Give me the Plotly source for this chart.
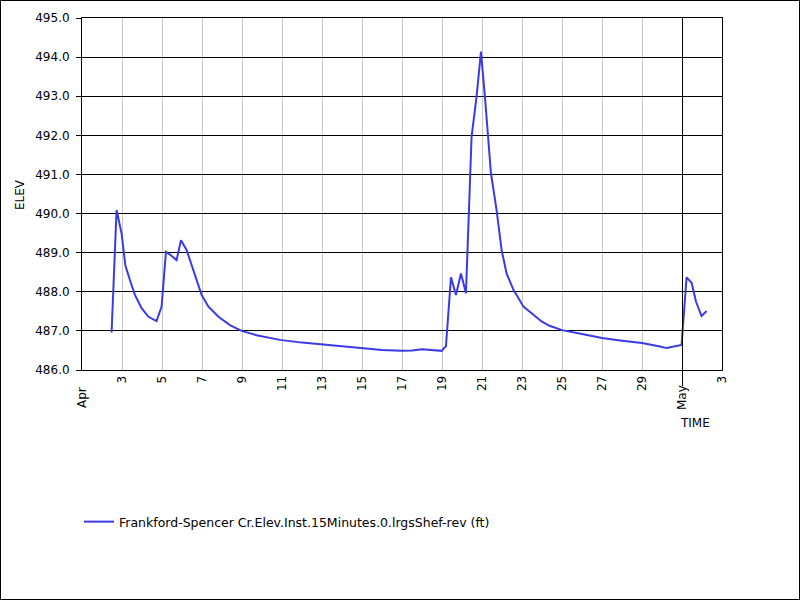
import pandas as pd
import plotly.graph_objects as go

# ---- data ----
times = [
    "2024-04-02 11:30", "2024-04-02 17:30", "2024-04-02 23:30", "2024-04-03 04:00",
    "2024-04-03 09:30", "2024-04-03 15:30", "2024-04-03 23:30", "2024-04-04 07:45",
    "2024-04-04 17:30", "2024-04-04 23:30", "2024-04-05 04:45", "2024-04-05 10:15",
    "2024-04-05 17:30", "2024-04-05 22:45", "2024-04-06 05:30", "2024-04-06 11:30",
    "2024-04-06 17:30", "2024-04-06 23:30", "2024-04-07 07:45", "2024-04-07 19:45",
    "2024-04-08 09:30", "2024-04-08 23:30", "2024-04-09 17:30", "2024-04-10 21:30",
    "2024-04-12 00:00", "2024-04-13 00:00", "2024-04-14 00:00", "2024-04-15 00:00",
    "2024-04-16 00:00", "2024-04-17 00:00", "2024-04-17 12:00", "2024-04-18 00:00",
    "2024-04-18 09:30", "2024-04-18 23:30", "2024-04-19 04:45", "2024-04-19 10:45",
    "2024-04-19 16:45", "2024-04-19 22:45", "2024-04-20 04:45", "2024-04-20 11:30",
    "2024-04-20 17:30", "2024-04-20 22:45", "2024-04-21 03:30", "2024-04-21 10:45",
    "2024-04-21 17:30", "2024-04-21 23:30", "2024-04-22 05:30", "2024-04-22 13:45",
    "2024-04-23 01:45", "2024-04-23 13:45", "2024-04-23 23:30", "2024-04-24 09:00",
    "2024-04-25 00:00", "2024-04-26 00:00", "2024-04-27 00:00", "2024-04-28 00:00",
    "2024-04-29 00:00", "2024-04-29 21:30", "2024-04-30 05:30", "2024-04-30 23:30",
    "2024-05-01 05:30", "2024-05-01 11:30", "2024-05-01 16:45", "2024-05-01 23:30",
    "2024-05-02 05:30",
]
elev = [
    486.96, 490.09, 489.49, 488.68,
    488.30, 487.92, 487.58, 487.36,
    487.25, 487.62, 489.02, 488.94,
    488.81, 489.32, 489.07, 488.68,
    488.30, 487.92, 487.62, 487.36,
    487.15, 487.00, 486.89, 486.77,
    486.70, 486.65, 486.60, 486.55,
    486.51, 486.49, 486.50, 486.53,
    486.51, 486.49, 486.61, 488.37,
    487.92, 488.47, 487.96, 491.97,
    492.99, 494.14, 492.99, 491.03,
    490.09, 489.07, 488.47, 488.05,
    487.62, 487.41, 487.24, 487.13,
    487.02, 486.92, 486.82, 486.75,
    486.69, 486.60, 486.56, 486.64,
    488.37, 488.23, 487.75, 487.38,
    487.51,
]
series_name = "Frankford-Spencer Cr.Elev.Inst.15Minutes.0.lrgsShef-rev (ft)"

x_tick_dates = ["2024-04-03", "2024-04-05", "2024-04-07", "2024-04-09", "2024-04-11",
                "2024-04-13", "2024-04-15", "2024-04-17", "2024-04-19", "2024-04-21",
                "2024-04-23", "2024-04-25", "2024-04-27", "2024-04-29", "2024-05-03"]
x_tick_text = ["3", "5", "7", "9", "11", "13", "15", "17", "19", "21",
               "23", "25", "27", "29", "3"]
month_dates = ["2024-04-01", "2024-05-01"]
month_text = ["Apr", "May"]
x_range_dates = ["2024-04-01", "2024-05-03"]
y_range = [486, 495]

# time -> days elapsed since start of the axis (numeric time axis)
t0 = pd.Timestamp(x_range_dates[0])
def to_days(vals):
    return [float(v) for v in (pd.to_datetime(vals) - t0) / pd.Timedelta(days=1)]

x_days = to_days(times)
tick_days = to_days(x_tick_dates)
month_days = to_days(month_dates)
x_range = to_days(x_range_dates)

W, H = 800, 600
L, R, T, B = 82, 78, 18, 230
pw, ph = W - L - R, H - T - B
half_px_days = 0.5 * (x_range[1] - x_range[0]) / pw

def px_x(p):
    return (p - L) / pw

def px_y(p):
    return (H - B - p) / ph

fig = go.Figure()
fig.add_trace(go.Scatter(
    x=x_days, y=elev, mode="lines", name=series_name,
    line=dict(color="#3b3be6", width=2),
))

font_main = "DejaVu Sans, Verdana, sans-serif"

fig.update_layout(
    template="none",
    width=W, height=H,
    margin=dict(l=L, r=R, t=T, b=B, pad=0),
    paper_bgcolor="white", plot_bgcolor="white",
    font=dict(family=font_main, size=12, color="black"),
    showlegend=True,
    legend=dict(
        x=px_x(79), y=px_y(522), xanchor="left", yanchor="middle",
        font=dict(family=font_main, size=12.5, color="black"),
        bgcolor="rgba(0,0,0,0)", itemwidth=30, borderwidth=0,
    ),
    xaxis=dict(
        range=x_range,
        tickmode="array", tickvals=tick_days, ticktext=x_tick_text,
        tickangle=-90, tickfont=dict(size=12),
        showgrid=True, gridcolor="#c8c8c8", gridwidth=1,
        showline=True, linecolor="black", linewidth=1, mirror=True,
        ticks="", zeroline=False,
    ),
    yaxis=dict(
        range=y_range, dtick=1, tick0=486, tickformat=".1f",
        showgrid=True, gridcolor="black", gridwidth=1,
        showline=True, linecolor="black", linewidth=1, mirror=True,
        ticks="outside", ticklen=5, tickcolor="black",
        ticklabelstandoff=4,
        tickfont=dict(size=12), zeroline=False,
    ),
)

# month boundary line (May) extending below the axis
fig.add_shape(type="line", xref="x", yref="paper",
              x0=month_days[1] + half_px_days, x1=month_days[1] + half_px_days,
              y0=px_y(386), y1=1,
              line=dict(color="black", width=1))

# month labels
for mv, mt in zip(month_days, month_text):
    fig.add_annotation(x=mv, xref="x", y=px_y(398), yref="paper",
                       text=mt, textangle=-90, showarrow=False,
                       xanchor="center", yanchor="middle",
                       font=dict(family=font_main, size=12, color="black"))

# axis titles
fig.add_annotation(x=px_x(20), y=px_y(195), xref="paper", yref="paper",
                   text="ELEV", textangle=-90, showarrow=False,
                   xanchor="center", yanchor="middle",
                   font=dict(family=font_main, size=12, color="black"))
fig.add_annotation(x=px_x(695), y=px_y(423), xref="paper", yref="paper",
                   text="TIME", showarrow=False,
                   xanchor="center", yanchor="middle",
                   font=dict(family=font_main, size=12, color="black"))

# outer border of the image
fig.add_shape(type="rect", xref="paper", yref="paper",
              x0=px_x(0.5), x1=px_x(799.5), y0=px_y(599.5), y1=px_y(0.5),
              line=dict(color="black", width=1), layer="below")

fig.write_html("out.html", config={"displayModeBar": False},
               post_script="document.body.style.margin='0';document.body.style.overflow='hidden';")
